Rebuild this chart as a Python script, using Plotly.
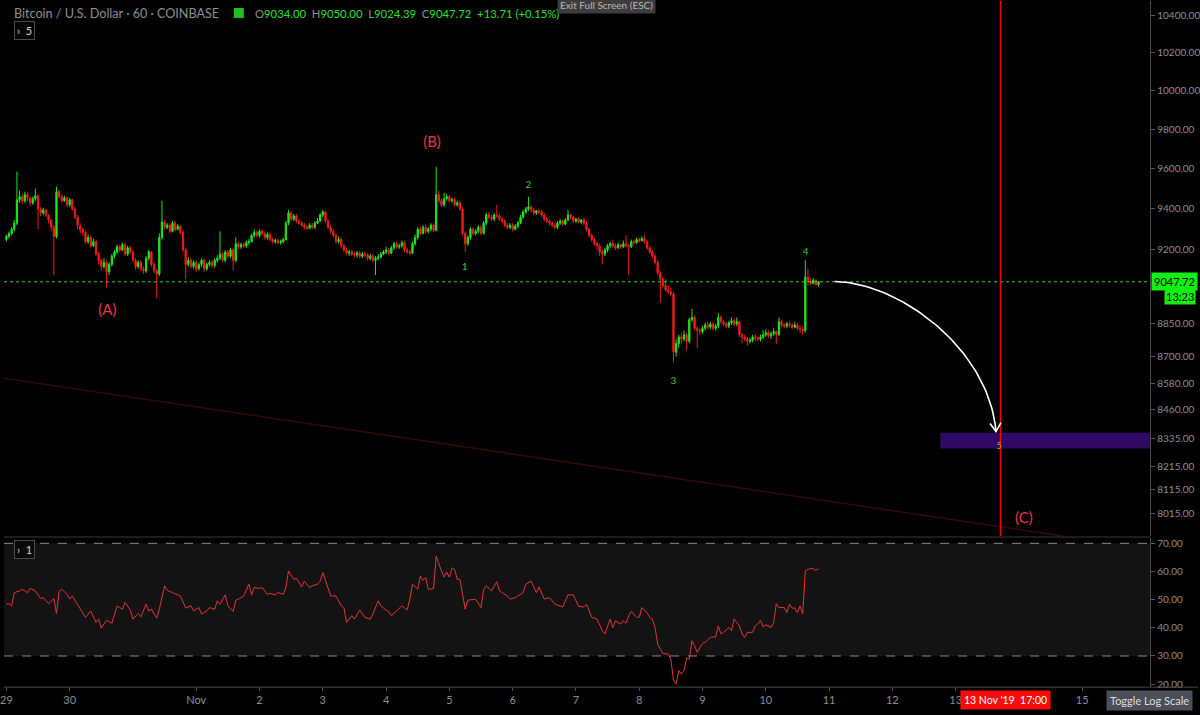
import math
import pandas as pd
import plotly.graph_objects as go

# ---------------- data ----------------
first_open = 9250
close = [
    9265, 9280, 9300, 9330, 9445, 9460, 9440, 9470, 9455, 9430,
    9450, 9465, 9400, 9380, 9395, 9370, 9345, 9310, 9265, 9485,
    9460, 9440, 9455, 9420, 9445, 9400, 9360, 9320, 9300, 9285,
    9240, 9260, 9220, 9240, 9180, 9150, 9120, 9140, 9095, 9130,
    9170, 9190, 9215, 9200, 9225, 9180, 9210, 9190, 9150, 9120,
    9140, 9110, 9100, 9160, 9190, 9130, 9100, 9085, 9260, 9335,
    9310, 9320, 9290, 9330, 9300, 9315, 9285, 9200, 9130, 9150,
    9120, 9140, 9110, 9130, 9150, 9110, 9130, 9140, 9125, 9150,
    9160, 9180, 9150, 9190, 9170, 9200, 9150, 9230, 9215, 9225,
    9220, 9235, 9240, 9270, 9285, 9270, 9290, 9280, 9260, 9275,
    9250, 9240, 9245, 9235, 9240, 9250, 9330, 9380, 9350, 9365,
    9340, 9330, 9320, 9310, 9305, 9320, 9310, 9330, 9340, 9370,
    9385, 9340, 9310, 9290, 9270, 9240, 9250, 9220, 9200, 9185,
    9190, 9180, 9175, 9185, 9170, 9180, 9175, 9160, 9170, 9150,
    9160, 9165, 9180, 9190, 9200, 9185, 9210, 9230, 9215, 9220,
    9235, 9200, 9190, 9185, 9230, 9260, 9300, 9280, 9310, 9290,
    9300, 9320, 9295, 9470, 9440, 9420, 9450, 9460, 9440, 9445,
    9420, 9430, 9400, 9280, 9230, 9260, 9300, 9280, 9290, 9310,
    9280, 9330, 9370, 9360, 9350, 9370, 9365, 9350, 9340, 9320,
    9310, 9320, 9300, 9315, 9330, 9360, 9385, 9400, 9410, 9395,
    9380, 9390, 9385, 9370, 9350, 9340, 9330, 9320, 9310, 9330,
    9340, 9325, 9345, 9370, 9360, 9340, 9350, 9335, 9345, 9330,
    9300, 9270, 9250, 9230, 9220, 9190, 9180, 9200, 9220, 9230,
    9220, 9210, 9225, 9215, 9230, 9220, 9215, 9240, 9235, 9250,
    9245, 9255, 9240, 9210, 9190, 9170, 9140, 9090, 9060, 9030,
    9010, 9000, 8990, 8720, 8760, 8790, 8780, 8800, 8770, 8870,
    8880, 8830, 8820, 8815, 8830, 8845, 8835, 8850, 8830, 8840,
    8880, 8860, 8850, 8840, 8855, 8865, 8850, 8860, 8800, 8790,
    8780, 8770, 8775, 8790, 8785, 8780, 8790, 8800, 8810, 8795,
    8805, 8815, 8800, 8860, 8845, 8840, 8850, 8845, 8835, 8845,
    8830, 8825, 8820, 9070, 9050, 9040, 9055, 9034, 9047.72,
]
high = [
    9275, 9290, 9310, 9345, 9585, 9490, 9475, 9485, 9480, 9460,
    9460, 9500, 9470, 9410, 9405, 9400, 9375, 9350, 9320, 9510,
    9495, 9470, 9465, 9460, 9455, 9450, 9410, 9370, 9330, 9310,
    9295, 9275, 9270, 9255, 9250, 9190, 9160, 9160, 9150, 9140,
    9180, 9200, 9225, 9225, 9235, 9235, 9220, 9220, 9200, 9160,
    9150, 9150, 9120, 9170, 9200, 9195, 9140, 9110, 9280, 9440,
    9345, 9330, 9325, 9340, 9340, 9325, 9320, 9295, 9210, 9165,
    9160, 9150, 9150, 9140, 9160, 9160, 9140, 9150, 9150, 9160,
    9175, 9290, 9190, 9200, 9200, 9210, 9210, 9260, 9240, 9235,
    9235, 9245, 9255, 9280, 9300, 9295, 9300, 9300, 9290, 9285,
    9285, 9260, 9255, 9255, 9250, 9260, 9340, 9395, 9390, 9375,
    9375, 9350, 9340, 9330, 9320, 9330, 9330, 9340, 9355, 9380,
    9395, 9390, 9350, 9320, 9300, 9280, 9265, 9260, 9230, 9210,
    9200, 9200, 9190, 9195, 9195, 9190, 9190, 9185, 9180, 9180,
    9170, 9180, 9190, 9200, 9215, 9210, 9220, 9240, 9240, 9230,
    9245, 9245, 9210, 9200, 9240, 9275, 9310, 9315, 9320, 9320,
    9310, 9330, 9330, 9610, 9490, 9450, 9480, 9475, 9470, 9455,
    9455, 9440, 9440, 9410, 9290, 9270, 9310, 9310, 9300, 9320,
    9320, 9340, 9380, 9385, 9370, 9380, 9420, 9375, 9360, 9350,
    9330, 9330, 9330, 9325, 9340, 9370, 9395, 9410, 9460, 9420,
    9405, 9395, 9400, 9395, 9380, 9360, 9350, 9340, 9330, 9340,
    9350, 9345, 9355, 9395, 9375, 9365, 9355, 9360, 9350, 9355,
    9340, 9310, 9280, 9260, 9240, 9230, 9200, 9210, 9230, 9240,
    9250, 9230, 9235, 9230, 9245, 9270, 9230, 9250, 9250, 9260,
    9260, 9265, 9270, 9250, 9220, 9200, 9180, 9150, 9100, 9070,
    9060, 9030, 9020, 9000, 8780, 8800, 8810, 8820, 8810, 8880,
    8920, 8890, 8840, 8830, 8840, 8855, 8860, 8860, 8860, 8850,
    8900, 8890, 8870, 8860, 8865, 8880, 8875, 8880, 8865, 8810,
    8800, 8790, 8785, 8800, 8805, 8795, 8800, 8820, 8825, 8820,
    8815, 8830, 8820, 8880, 8870, 8855, 8860, 8860, 8855, 8860,
    8855, 8845, 8840, 9150, 9110, 9065, 9065, 9060, 9050,
]
low = [
    9240, 9255, 9270, 9290, 9320, 9430, 9425, 9430, 9440, 9415,
    9420, 9440, 9300, 9365, 9370, 9360, 9330, 9290, 9080, 9255,
    9450, 9430, 9435, 9410, 9410, 9390, 9350, 9300, 9280, 9270,
    9230, 9230, 9210, 9215, 9170, 9130, 9100, 9110, 9020, 9080,
    9120, 9160, 9180, 9190, 9195, 9170, 9170, 9180, 9140, 9105,
    9110, 9100, 9085, 9090, 9150, 9120, 9090, 8970, 9075, 9250,
    9300, 9300, 9280, 9285, 9290, 9295, 9275, 9190, 9060, 9120,
    9110, 9110, 9095, 9100, 9120, 9095, 9100, 9120, 9115, 9115,
    9140, 9150, 9140, 9140, 9160, 9160, 9100, 9140, 9205, 9205,
    9210, 9210, 9225, 9235, 9260, 9260, 9260, 9270, 9250, 9250,
    9240, 9230, 9230, 9225, 9225, 9230, 9245, 9320, 9340, 9340,
    9330, 9320, 9310, 9300, 9295, 9300, 9300, 9300, 9325, 9335,
    9360, 9330, 9300, 9280, 9260, 9230, 9230, 9210, 9190, 9175,
    9170, 9170, 9165, 9165, 9160, 9160, 9165, 9150, 9150, 9140,
    9080, 9150, 9160, 9175, 9180, 9175, 9180, 9200, 9205, 9205,
    9210, 9190, 9180, 9175, 9180, 9220, 9250, 9270, 9275, 9280,
    9280, 9290, 9285, 9290, 9430, 9410, 9410, 9440, 9430, 9430,
    9410, 9410, 9390, 9270, 9190, 9220, 9250, 9270, 9270, 9280,
    9270, 9275, 9320, 9350, 9340, 9340, 9355, 9340, 9330, 9310,
    9300, 9300, 9290, 9295, 9305, 9325, 9350, 9375, 9390, 9385,
    9370, 9370, 9375, 9360, 9340, 9330, 9320, 9310, 9300, 9300,
    9320, 9315, 9320, 9340, 9350, 9330, 9330, 9330, 9325, 9320,
    9290, 9260, 9240, 9220, 9200, 9170, 9130, 9170, 9190, 9210,
    9210, 9200, 9205, 9205, 9210, 9210, 9080, 9210, 9225, 9230,
    9235, 9240, 9230, 9200, 9180, 9160, 9130, 9080, 8950, 9020,
    9000, 8990, 8980, 8670, 8700, 8740, 8760, 8770, 8730, 8760,
    8860, 8820, 8740, 8800, 8805, 8820, 8825, 8825, 8820, 8820,
    8830, 8850, 8840, 8830, 8830, 8845, 8840, 8840, 8790, 8760,
    8770, 8750, 8760, 8765, 8770, 8770, 8770, 8780, 8790, 8785,
    8780, 8795, 8760, 8795, 8835, 8830, 8830, 8835, 8825, 8830,
    8820, 8810, 8800, 8810, 9030, 9030, 9035, 9030, 9024.39,
]
open_ = [first_open] + close[:-1]
start_time = "2019-10-29 00:00"

rsi_hours = [0, 1, 2, 3, 5, 6, 8, 9, 11, 13, 14, 16, 18, 19, 20, 21, 23, 24, 25, 27, 29, 30, 32, 34, 35, 36, 38, 40, 42, 44,
             45, 47, 48, 50, 51, 53, 54, 55, 57, 58, 60, 61, 63, 66, 68, 70, 71, 73, 74, 76, 77, 79, 80, 81, 83, 84, 86, 87, 89, 90,
             92, 93, 94, 96, 97, 99, 100, 102, 103, 105, 106, 107, 109, 110, 112, 113, 115, 116, 118, 119, 120, 123, 125, 126, 127, 128, 129, 131, 132, 134,
             135, 136, 138, 139, 141, 142, 144, 145, 146, 148, 150, 152, 153, 154, 156, 157, 158, 159, 160, 162, 163, 165, 166, 167, 168, 169, 170, 171, 172, 174,
             175, 178, 180, 181, 182, 184, 186, 187, 190, 191, 193, 194, 196, 197, 199, 201, 202, 204, 206, 208, 210, 211, 213, 215, 217, 219, 220, 222, 224, 226,
             227, 228, 229, 230, 231, 233, 234, 235, 236, 237, 239, 240, 241, 243, 244, 245, 246, 247, 249, 251, 252, 253, 254, 255, 256, 257, 258, 259, 260, 261,
             262, 264, 265, 267, 269, 270, 271, 272, 274, 275, 276, 278, 279, 280, 281, 283, 284, 285, 286, 287, 288, 290, 291, 292, 293, 295, 296, 297, 298, 299,
             300, 301, 302, 303, 304, 305, 306, 307, 308]
rsi_values = [48.4, 48.6, 47.8, 52.5, 53.1, 53.7, 52.5, 54.0, 53.1, 50.4, 50.7, 48.6, 50.4, 45.1, 52.9, 53.7, 51.9, 50.2, 51.3, 48.4, 45.4, 43.7, 46.0, 41.9, 43.1, 39.9, 42.7, 41.6, 47.8, 46.6,
              49.0, 46.3, 43.1, 45.1, 43.9, 48.4, 46.0, 46.6, 43.4, 46.6, 54.9, 53.3, 52.5, 51.3, 47.0, 47.8, 46.0, 47.2, 44.9, 46.0, 47.2, 46.6, 49.6, 48.4, 51.7, 47.8, 45.8, 49.8, 50.7, 51.3,
              55.5, 51.7, 54.3, 54.0, 54.3, 51.9, 52.2, 51.7, 52.5, 51.9, 54.3, 60.2, 57.2, 57.6, 54.5, 56.6, 54.3, 54.9, 55.5, 56.6, 59.6, 51.3, 51.3, 49.6, 47.8, 47.2, 41.9, 44.3, 43.1, 46.3,
              44.9, 43.7, 43.1, 44.9, 49.6, 47.8, 46.3, 45.8, 44.3, 46.0, 47.8, 46.3, 50.2, 55.5, 53.7, 58.4, 56.9, 57.8, 53.7, 53.9, 65.5, 60.2, 58.0, 59.8, 58.0, 61.3, 60.7, 57.2, 57.2, 46.6,
              49.8, 50.2, 47.2, 53.7, 54.9, 53.1, 56.4, 53.1, 51.3, 50.2, 50.7, 51.3, 52.5, 55.5, 56.6, 52.5, 54.5, 50.2, 50.7, 48.4, 47.8, 47.4, 51.7, 51.7, 47.6, 47.4, 48.4, 43.7, 43.1, 39.0,
              37.8, 40.4, 43.1, 40.1, 42.5, 41.3, 42.5, 41.6, 44.3, 45.8, 43.7, 43.7, 47.2, 45.4, 43.7, 43.1, 40.1, 34.2, 30.9, 30.7, 28.9, 21.3, 20.1, 24.8, 23.6, 24.8, 29.3, 28.9, 35.4, 33.7,
              31.3, 34.5, 34.8, 36.6, 36.8, 40.7, 37.8, 38.4, 40.1, 39.0, 43.1, 40.7, 37.8, 36.6, 38.4, 38.4, 40.7, 41.3, 42.7, 40.4, 41.1, 40.1, 41.9, 48.6, 47.2, 47.2, 45.4, 48.4, 47.0, 47.0,
              45.4, 47.8, 44.9, 60.2, 60.8, 61.0, 61.0, 60.4, 61.0]

price_ticks = [8015, 8115, 8215, 8335, 8460, 8580, 8700, 8850, 9200, 9400, 9600, 9800, 10000, 10200, 10400]
rsi_ticks = [20, 30, 40, 50, 60, 70]
day_ticks = ["2019-10-29", "2019-10-30", "2019-11-01", "2019-11-02", "2019-11-03", "2019-11-04", "2019-11-05",
             "2019-11-06", "2019-11-07", "2019-11-08", "2019-11-09", "2019-11-10", "2019-11-11", "2019-11-12",
             "2019-11-13", "2019-11-15"]
day_labels = ["29", "30", "Nov", "2", "3", "4", "5", "6", "7", "8", "9", "10", "11", "12", "13", "15"]

last_price = 9047.72
header_title = "Bitcoin / U.S. Dollar · 60 · COINBASE"
ohlc = [("O", "9034.00"), ("H", "9050.00"), ("L", "9024.39"), ("C", "9047.72")]
change_text = "+13.71 (+0.15%)"

# drawings (time, price)
target_zone = ("2019-11-12 18:10", "2019-11-17 00:00", 8291, 8360)
time_marker = "2019-11-13 17:00"
trend_pts = [("2019-10-28 23:00", 8602), ("2019-11-15 12:00", 7888)]
arc_ctrl = [("2019-11-11 02:12", 9049), ("2019-11-12 02:42", 9044), ("2019-11-13 12:42", 8735), ("2019-11-13 15:18", 8365)]
arrow_arms = [("2019-11-13 13:03", 8400), ("2019-11-13 17:12", 8404)]
wave_big = [("(A)", "2019-10-30 14:20", 8910), ("(B)", "2019-11-04 17:25", 9729), ("(C)", "2019-11-14 01:55", 7991)]
wave_small = [("1", "2019-11-05 05:50", 9116), ("2", "2019-11-06 06:00", 9518), ("3", "2019-11-08 13:00", 8587),
              ("4", "2019-11-10 15:10", 9188)]
wave_five = ("5", "2019-11-13 16:30", 8300)

x_range = ["2019-10-28 23:05:40", "2019-11-16 01:48:40"]
y_range_log = [3.8987, 4.02042]

# ---------------- build ----------------
times = pd.date_range(start_time, periods=len(close), freq="h")
t0 = pd.Timestamp(start_time)
rsi_times = [t0 + pd.Timedelta(hours=h) for h in rsi_hours]

UP = "#1ee61e"
DOWN = "#f01c1c"
GRID_TXT = "#8e8e8e"
FONT = "Lato, 'Open Sans', sans-serif"

fig = go.Figure()

# trendline (faint)
fig.add_trace(go.Scatter(x=[p[0] for p in trend_pts], y=[p[1] for p in trend_pts], mode="lines",
                         line=dict(color="#2e0a0a", width=1.6), xaxis="x", yaxis="y", hoverinfo="skip"))
# target zone
z0, z1, zl, zh = target_zone
fig.add_trace(go.Scatter(x=[z0, z1, z1, z0, z0], y=[zl, zl, zh, zh, zl], mode="lines", fill="toself",
                         fillcolor="#2e0a64", line=dict(width=0, color="#2e0a64"), xaxis="x", yaxis="y",
                         hoverinfo="skip"))
# last price dotted line
fig.add_trace(go.Scatter(x=x_range, y=[last_price, last_price], mode="lines",
                         line=dict(color="#2bd42b", width=1, dash="dot"), xaxis="x", yaxis="y", hoverinfo="skip"))
# vertical time marker
fig.add_trace(go.Scatter(x=[time_marker, time_marker], y=[7000, 11000], mode="lines",
                         line=dict(color="#ff0000", width=1.4), xaxis="x", yaxis="y", hoverinfo="skip"))

# candles
fig.add_trace(go.Candlestick(x=times, open=open_, high=high, low=low, close=close,
                             increasing=dict(line=dict(color=UP, width=1), fillcolor=UP),
                             decreasing=dict(line=dict(color=DOWN, width=1), fillcolor=DOWN),
                             whiskerwidth=0, xaxis="x", yaxis="y", hoverinfo="skip"))

# curved arrow (cubic bezier in time / log-price space)
def to_h(t):
    return (pd.Timestamp(t) - t0) / pd.Timedelta(hours=1)

cx = [to_h(p[0]) for p in arc_ctrl]
cy = [math.log10(p[1]) for p in arc_ctrl]
ax_, ay_ = [], []
for k in range(61):
    s = k / 60
    b = [(1 - s) ** 3, 3 * s * (1 - s) ** 2, 3 * s * s * (1 - s), s ** 3]
    ax_.append(t0 + pd.Timedelta(hours=sum(bi * v for bi, v in zip(b, cx))))
    ay_.append(10 ** sum(bi * v for bi, v in zip(b, cy)))
fig.add_trace(go.Scatter(x=ax_, y=ay_, mode="lines", line=dict(color="white", width=1.6),
                         xaxis="x", yaxis="y", hoverinfo="skip"))
tip = arc_ctrl[-1]
fig.add_trace(go.Scatter(x=[arrow_arms[0][0], tip[0], arrow_arms[1][0]],
                         y=[arrow_arms[0][1], tip[1], arrow_arms[1][1]], mode="lines",
                         line=dict(color="white", width=1.6), xaxis="x", yaxis="y", hoverinfo="skip"))

# wave labels
fig.add_trace(go.Scatter(x=[w[1] for w in wave_big], y=[w[2] for w in wave_big], text=[w[0] for w in wave_big],
                         mode="text", textfont=dict(color="#f2304a", size=15, family=FONT),
                         xaxis="x", yaxis="y", hoverinfo="skip"))
fig.add_trace(go.Scatter(x=[w[1] for w in wave_small], y=[w[2] for w in wave_small], text=[w[0] for w in wave_small],
                         mode="text", textfont=dict(color="#3cc43c", size=10, family=FONT),
                         xaxis="x", yaxis="y", hoverinfo="skip"))
fig.add_trace(go.Scatter(x=[wave_five[1]], y=[wave_five[2]], text=[wave_five[0]],
                         mode="text", textfont=dict(color="#a8a83a", size=9, family=FONT),
                         xaxis="x", yaxis="y", hoverinfo="skip"))

# RSI
fig.add_trace(go.Scatter(x=rsi_times, y=rsi_values, mode="lines", line=dict(color="#e3343a", width=1),
                         xaxis="x2", yaxis="y2", hoverinfo="skip"))

W, H = 1200, 715
def px(x):
    return x / W
def py(y):
    return 1 - y / H

shapes = [
    dict(type="rect", xref="paper", yref="y2", x0=0, x1=px(1152), y0=30, y1=70, fillcolor="#131313",
         line=dict(width=0), layer="below"),
    dict(type="line", xref="paper", yref="y2", x0=0, x1=px(1152), y0=70, y1=70,
         line=dict(color="#8a8a8a", width=1, dash="dash")),
    dict(type="line", xref="paper", yref="y2", x0=0, x1=px(1152), y0=30, y1=30,
         line=dict(color="#8a8a8a", width=1, dash="dash")),
    dict(type="line", xref="paper", yref="paper", x0=0, x1=px(1152), y0=py(539), y1=py(539),
         line=dict(color="#3a3a3a", width=1)),
    dict(type="line", xref="paper", yref="paper", x0=0, x1=1, y0=py(690), y1=py(690),
         line=dict(color="#4a4a4a", width=1)),
    # green flag icon
    dict(type="rect", xref="paper", yref="paper", x0=px(231), x1=px(241), y0=py(17), y1=py(7),
         fillcolor="#22c022", line=dict(width=0)),
]

ohlc_html = "  ".join(f"<span style='color:#8e8e8e'>{k}</span>{v}" for k, v in ohlc) + "  " + change_text
annotations = [
    dict(xref="paper", yref="paper", x=px(8), y=py(13), xanchor="left", yanchor="middle", showarrow=False,
         text=header_title, font=dict(color="#8e8e8e", size=12.6, family=FONT)),
    dict(xref="paper", yref="paper", x=px(250), y=py(13), xanchor="left", yanchor="middle", showarrow=False,
         text=ohlc_html, font=dict(color="#2be02b", size=11.3, family=FONT)),
    dict(xref="paper", yref="paper", x=px(606), y=py(4), xanchor="center", yanchor="middle", showarrow=False,
         text="Exit Full Screen (ESC)", font=dict(color="#b8b8b8", size=10, family=FONT),
         bgcolor="#3d3d3d", borderpad=2),
    dict(xref="paper", yref="paper", x=px(21), y=py(30), xanchor="center", yanchor="middle", showarrow=False,
         text="›  5", font=dict(color="#cfcfcf", size=11, family=FONT), bordercolor="#4a4a4a", borderwidth=1,
         borderpad=2, bgcolor="#050505"),
    dict(xref="paper", yref="paper", x=px(21), y=py(552), xanchor="center", yanchor="middle", showarrow=False,
         text="›  1", font=dict(color="#cfcfcf", size=11, family=FONT), bordercolor="#4a4a4a", borderwidth=1,
         borderpad=2, bgcolor="#0a0a0a"),
    dict(xref="paper", yref="y", x=px(1153), y=math.log10(last_price), xanchor="left", yanchor="middle",
         showarrow=False, text=f"{last_price:.2f}", font=dict(color="#000000", size=11, family=FONT),
         bgcolor="#12f012", borderpad=2),
    dict(xref="paper", yref="paper", x=px(1198), y=py(297), xanchor="right", yanchor="middle",
         showarrow=False, text="13:23", font=dict(color="#000000", size=11, family=FONT),
         bgcolor="#12f012", borderpad=1),
    dict(xref="x2", yref="paper", x=time_marker, xshift=5, y=py(703), xanchor="center", yanchor="middle",
         showarrow=False, text="13 Nov '19  17:00", font=dict(color="#ffffff", size=10.5, family=FONT),
         bgcolor="#ff0a0a", borderpad=3),
    dict(xref="paper", yref="paper", x=px(1151), y=py(703), xanchor="center", yanchor="middle",
         showarrow=False, text="Toggle Log Scale", font=dict(color="#dddddd", size=11, family=FONT),
         bgcolor="#4b4f59", borderpad=3),
]

axis_common = dict(showgrid=False, zeroline=False)
fig.update_layout(
    width=W, height=H, margin=dict(l=0, r=0, t=0, b=0),
    paper_bgcolor="#000000", plot_bgcolor="#000000",
    showlegend=False, hovermode=False,
    font=dict(family=FONT, color=GRID_TXT, size=11),
    xaxis=dict(domain=[0, px(1152)], range=x_range, type="date", anchor="y", showticklabels=False,
               rangeslider=dict(visible=False), showline=False, **axis_common),
    yaxis=dict(domain=[py(538), 1], type="log", range=y_range_log, side="right", anchor="x",
               tickvals=price_ticks, ticktext=[f"{v:.2f}" for v in price_ticks],
               ticks="outside", ticklen=4, tickcolor="#555555", showline=True, linecolor="#4a4a4a",
               tickfont=dict(size=10, color=GRID_TXT, family=FONT), **axis_common),
    xaxis2=dict(domain=[0, px(1152)], range=x_range, type="date", anchor="y2", matches="x",
                tickvals=day_ticks, ticktext=day_labels, ticks="outside", ticklen=3, tickcolor="#555555",
                ticklabeloverflow="allow", tickfont=dict(size=11, color=GRID_TXT, family=FONT),
                showline=False, **axis_common),
    yaxis2=dict(domain=[py(690), py(540)], range=[18.94, 71.9], side="right", anchor="x2",
                tickvals=rsi_ticks, ticktext=[f"{v:.2f}" for v in rsi_ticks],
                ticks="outside", ticklen=4, tickcolor="#555555", showline=True, linecolor="#4a4a4a",
                tickfont=dict(size=10, color=GRID_TXT, family=FONT), **axis_common),
    shapes=shapes, annotations=annotations,
)

fig.write_html("out.html")
